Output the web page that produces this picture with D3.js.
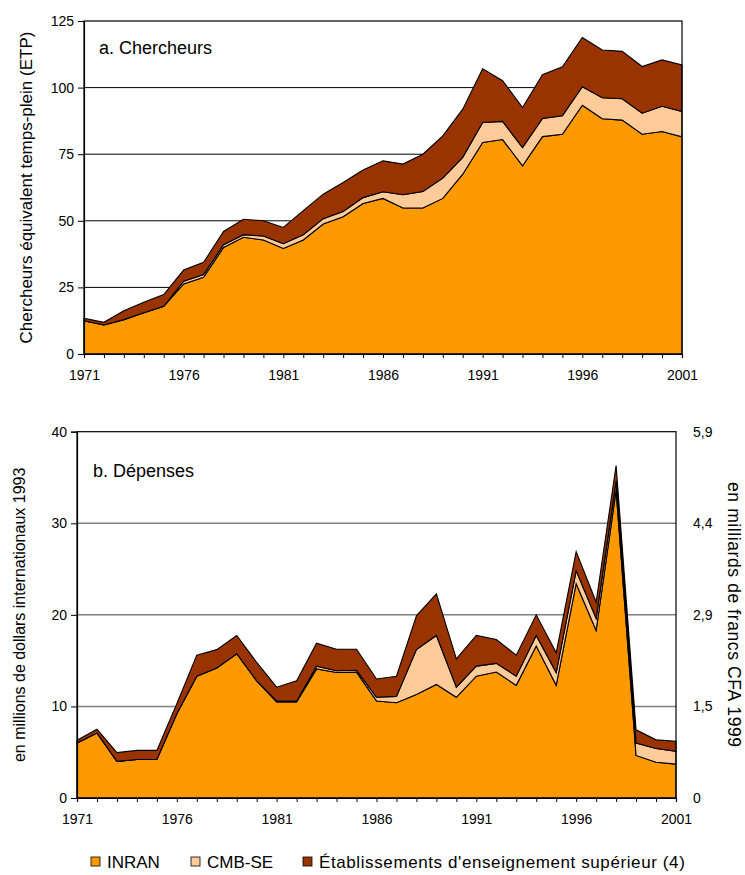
<!DOCTYPE html>
<html>
<head>
<meta charset="utf-8">
<script src="https://cdn.jsdelivr.net/npm/d3@7"></script>
<style>
  body { margin: 0; background: #fff; }
  svg text { font-family: Arial, "Liberation Sans", sans-serif; fill: #000; }
</style>
</head>
<body>
<svg id="chart" width="745" height="875"></svg>
<script>
// Years covered by both panels
const years = d3.range(1971, 2002);

// Panel a: researchers (full-time equivalents)
const chercheursINRAN = [12.5, 10.9, 12.9, 15.5, 17.9, 26.3, 28.8, 40.0, 43.8, 42.8, 39.6, 42.8, 48.8, 51.5, 56.5,
  58.4, 54.8, 54.8, 58.4, 67.5, 79.4, 80.5, 70.6, 81.6, 82.5, 93.4, 88.3, 87.8, 82.5, 83.5, 81.5];
const chercheursCMB = [0, 0, 0, 0, 0, 1.0, 1.0, 1.0, 1.0, 1.5, 1.8, 2.0, 2.0, 2.0, 2.2,
  2.5, 5.0, 6.2, 7.6, 6.3, 7.5, 6.8, 6.9, 6.8, 6.9, 6.9, 7.9, 8.0, 7.9, 9.5, 9.5];
const chercheursSup = [0.9, 1.0, 3.3, 3.9, 4.4, 4.2, 4.6, 5.0, 5.8, 5.7, 6.1, 9.0, 9.2, 10.9, 10.4,
  11.6, 11.5, 14.0, 15.9, 18.1, 20.2, 15.3, 15.0, 16.4, 18.4, 18.5, 17.9, 17.8, 17.5, 17.4, 17.5];

// Panel b: expenditures (millions of 1993 international dollars)
const depensesINRAN = [6.0, 7.1, 4.0, 4.2, 4.2, 9.2, 13.3, 14.2, 15.75, 12.8, 10.5, 10.5, 14.1, 13.7, 13.75,
  10.6, 10.4, 11.3, 12.4, 11.0, 13.3, 13.75, 12.3, 16.6, 12.3, 23.4, 18.3, 33.6, 4.65, 3.9, 3.7];
const depensesCMB = [0, 0, 0, 0, 0, 0, 0, 0, 0, 0, 0.1, 0.1, 0.3, 0.2, 0.2,
  0.4, 0.7, 4.9, 5.35, 1.1, 1.1, 0.95, 1.0, 1.15, 1.4, 1.4, 1.3, 1.0, 1.35, 1.5, 1.4];
const depensesSup = [0.3, 0.4, 0.95, 1.0, 1.0, 1.1, 2.3, 2.0, 2.0, 2.0, 1.5, 2.2, 2.5, 2.35, 2.3,
  2.0, 2.2, 3.7, 4.55, 3.1, 3.35, 2.6, 2.3, 2.25, 2.15, 2.1, 1.8, 1.7, 1.45, 0.95, 1.1];

// Axis ticks and labels
const yTicksA = [0, 25, 50, 75, 100, 125];
const yTicksB = [0, 10, 20, 30, 40];
const cfaLabels = ["0", "1,5", "2,9", "4,4", "5,9"];
const xLabelYears = [1971, 1976, 1981, 1986, 1991, 1996, 2001];

const seriesNames = ["INRAN", "CMB-SE", "Établissements d'enseignement supérieur (4)"];
const seriesColors = ["#ff9900", "#ffcc99", "#993300"];

const svg = d3.select("#chart");

function rows(a, b, c) {
  return years.map((yr, i) => ({ year: yr, s0: a[i], s1: b[i], s2: c[i] }));
}

const stack = d3.stack().keys(["s0", "s1", "s2"]);

function drawPanel(cfg) {
  const x = d3.scaleLinear().domain([1971, 2001]).range([cfg.left, cfg.right]);
  const y = d3.scaleLinear().domain(cfg.domain).range([cfg.bottom, cfg.top]);
  const g = svg.append("g");

  // horizontal grid
  g.append("g").selectAll("line")
    .data(cfg.grid)
    .join("line")
    .attr("x1", cfg.left).attr("x2", cfg.right)
    .attr("y1", d => y(d)).attr("y2", d => y(d))
    .attr("stroke", cfg.gridColor)
    .attr("stroke-width", cfg.gridWidth);

  // stacked areas
  const layers = stack(cfg.data);
  const area = d3.area()
    .x(d => x(d.data.year))
    .y0(d => y(d[0]))
    .y1(d => y(d[1]));
  g.append("g").selectAll("path")
    .data(layers)
    .join("path")
    .attr("d", area)
    .attr("fill", (d, i) => seriesColors[i])
    .attr("stroke", "#000")
    .attr("stroke-width", 1.1)
    .attr("stroke-linejoin", "miter");

  // frame
  g.append("rect")
    .attr("x", cfg.left).attr("y", cfg.top)
    .attr("width", cfg.right - cfg.left).attr("height", cfg.bottom - cfg.top)
    .attr("fill", "none").attr("stroke", "#000").attr("stroke-width", 1.2);

  // x axis: yearly ticks, labels every five years
  const xAxis = d3.axisBottom(x)
    .tickValues(years)
    .tickSize(4)
    .tickPadding(12)
    .tickFormat(d => xLabelYears.includes(d) ? String(d) : "");
  const gx = g.append("g")
    .attr("transform", `translate(0,${cfg.bottom})`)
    .call(xAxis);
  gx.select(".domain").attr("stroke", "#000").attr("stroke-width", 1.2);
  gx.selectAll(".tick line").attr("stroke", "#000");
  gx.selectAll("text").attr("font-size", 14).attr("fill", "#000")
    .attr("dy", "0.71em");

  // left y axis
  const yAxis = d3.axisLeft(y)
    .tickValues(cfg.yTicks)
    .tickSize(6)
    .tickPadding(4)
    .tickFormat(d3.format("d"));
  const gy = g.append("g")
    .attr("transform", `translate(${cfg.left},0)`)
    .call(yAxis);
  gy.select(".domain").attr("stroke", "#000").attr("stroke-width", 1.2);
  gy.selectAll(".tick line").attr("stroke", "#000");
  gy.selectAll("text").attr("font-size", 14).attr("fill", "#000");

  // panel label
  g.append("text")
    .attr("x", cfg.labelX).attr("y", cfg.labelY)
    .attr("font-size", 18)
    .text(cfg.label);

  // left axis title
  g.append("text")
    .attr("transform", `translate(${cfg.titleX},${(cfg.top + cfg.bottom) / 2}) rotate(-90)`)
    .attr("text-anchor", "middle")
    .attr("font-size", cfg.titleSize)
    .text(cfg.title);

  return { x, y, g };
}

// Panel a
drawPanel({
  left: 84, right: 682, top: 21, bottom: 354,
  domain: [0, 125], yTicks: yTicksA, grid: [25, 50, 75, 100],
  gridColor: "#000", gridWidth: 1,
  data: rows(chercheursINRAN, chercheursCMB, chercheursSup),
  label: "a. Chercheurs", labelX: 99, labelY: 54,
  title: "Chercheurs équivalent temps-plein (ETP)", titleX: 32, titleSize: 17
});

// Panel b
const pb = drawPanel({
  left: 77, right: 676, top: 431.7, bottom: 798,
  domain: [0, 40], yTicks: yTicksB, grid: [10, 20, 30],
  gridColor: "#808080", gridWidth: 1.5,
  data: rows(depensesINRAN, depensesCMB, depensesSup),
  label: "b. Dépenses", labelX: 93, labelY: 477,
  title: "en millions de dollars internationaux 1993", titleX: 25, titleSize: 16
});

// right axis in CFA francs, aligned with the dollar gridlines
const gr = svg.append("g")
  .attr("transform", "translate(676,0)")
  .call(d3.axisRight(pb.y)
    .tickValues(yTicksB)
    .tickSize(0)
    .tickPadding(17)
    .tickFormat((d, i) => cfaLabels[i]));
gr.select(".domain").remove();
gr.selectAll("text").attr("font-size", 14).attr("fill", "#000");

svg.append("text")
  .attr("transform", `translate(728,${(431.7 + 798) / 2}) rotate(90)`)
  .attr("text-anchor", "middle")
  .attr("font-size", 17.5)
  .attr("letter-spacing", 0.6)
  .text("en milliards de francs CFA 1999");

// legend
const legendX = [91, 191, 303];
const legend = svg.append("g").selectAll("g")
  .data(seriesNames)
  .join("g")
  .attr("transform", (d, i) => `translate(${legendX[i]},857)`);
legend.append("rect")
  .attr("width", 9).attr("height", 9)
  .attr("fill", (d, i) => seriesColors[i])
  .attr("stroke", "#000").attr("stroke-width", 0.8);
legend.append("text")
  .attr("x", 16).attr("y", 10.5)
  .attr("font-size", 17)
  .attr("letter-spacing", (d, i) => i === 2 ? 0.6 : 0)
  .text(d => d);
</script>
</body>
</html>
